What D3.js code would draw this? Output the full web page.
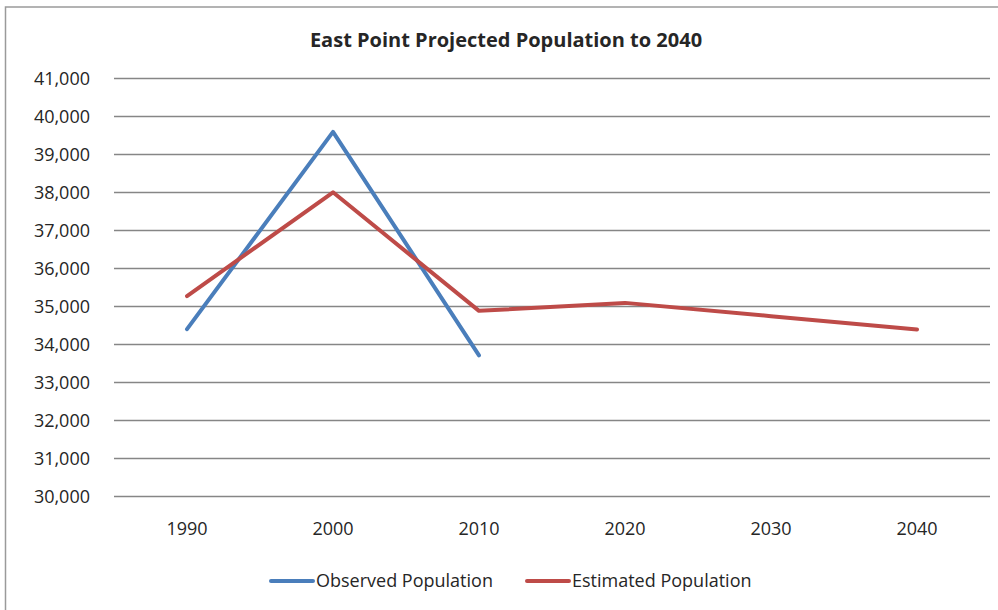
<!DOCTYPE html>
<html lang="en">
<head>
<meta charset="UTF-8">
<title>East Point Projected Population to 2040</title>
<script src="https://cdn.jsdelivr.net/npm/d3@7"></script>
<style>
  body { margin: 0; background: #fff; }
  text { font-family: "Open Sans", sans-serif; fill: #262626; }
</style>
</head>
<body>
<script>
const years = ["1990", "2000", "2010", "2020", "2030", "2040"];
const observed = [34400, 39590, 33710, null, null, null];
const estimated = [35270, 38000, 34880, 35090, 34740, 34390];
const yTicks = [30000, 31000, 32000, 33000, 34000, 35000, 36000, 37000, 38000, 39000, 40000, 41000];
const seriesNames = ["Observed Population", "Estimated Population"];
const colors = ["#4a7ebb", "#be4b48"];

const width = 998, height = 610;
const svg = d3.select("body").append("svg")
    .attr("width", width)
    .attr("height", height);

// chart frame
svg.append("rect")
    .attr("x", 5.5).attr("y", 7)
    .attr("width", width + 10).attr("height", height + 10)
    .attr("fill", "none").attr("stroke", "#9a9a9a").attr("stroke-width", 1.5);

svg.append("text")
    .attr("x", 506).attr("y", 47)
    .attr("text-anchor", "middle")
    .attr("font-size", "20px").attr("font-weight", "bold")
    .text("East Point Projected Population to 2040");

const x = d3.scalePoint().domain(years).range([187, 917]);
const y = d3.scaleLinear().domain([30000, 41000]).range([496.3, 78.3]);

// gridlines
svg.append("g").selectAll("line").data(yTicks).enter().append("line")
    .attr("x1", 114).attr("x2", 990)
    .attr("y1", d => Math.round(y(d)) + 0.5)
    .attr("y2", d => Math.round(y(d)) + 0.5)
    .attr("stroke", "#868686").attr("stroke-width", 1.3);

// y labels
svg.append("g").selectAll("text").data(yTicks).enter().append("text")
    .attr("x", 90).attr("y", d => y(d))
    .attr("dy", "0.35em")
    .attr("text-anchor", "end")
    .attr("font-size", "18px")
    .text(d3.format(","));

// x labels
svg.append("g").selectAll("text").data(years).enter().append("text")
    .attr("x", d => x(d)).attr("y", 535)
    .attr("text-anchor", "middle")
    .attr("font-size", "18px")
    .text(d => d);

const line = d3.line()
    .defined(d => d.v != null)
    .x(d => x(d.year))
    .y(d => y(d.v));

[observed, estimated].forEach((vals, i) => {
    const pts = years.map((yr, j) => ({ year: yr, v: vals[j] }));
    svg.append("path")
        .datum(pts)
        .attr("d", line)
        .attr("fill", "none")
        .attr("stroke", colors[i])
        .attr("stroke-width", 4)
        .attr("stroke-linejoin", "round")
        .attr("stroke-linecap", "round");
});

// legend
const legendX = [271, 527];
const legend = svg.append("g").selectAll("g").data(seriesNames).enter().append("g")
    .attr("transform", (d, i) => `translate(${legendX[i]},581)`);
legend.append("line")
    .attr("x1", 0).attr("x2", 42)
    .attr("stroke", (d, i) => colors[i])
    .attr("stroke-width", 4)
    .attr("stroke-linecap", "round");
legend.append("text")
    .attr("x", 45).attr("dy", "0.35em")
    .attr("font-size", "18px")
    .text(d => d);
</script>
</body>
</html>
